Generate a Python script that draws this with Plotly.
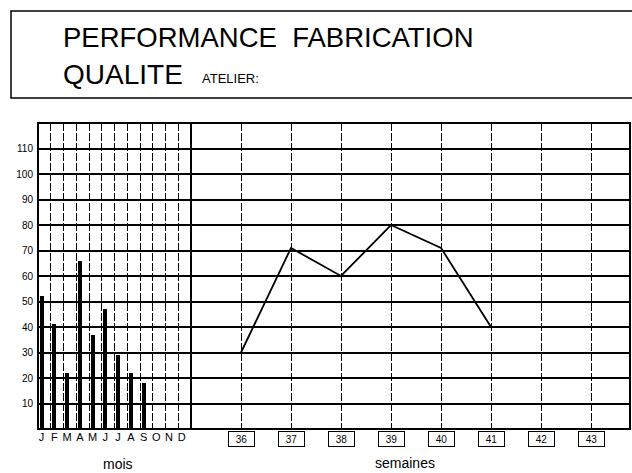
import plotly.graph_objects as go

# Monthly quality performance (%)
months = ["J", "F", "M", "A", "M", "J", "J", "A", "S", "O", "N", "D"]
month_values = [52, 41, 22, 66, 37, 47, 29, 22, 18, None, None, None]

# Weekly quality performance (%)
weeks = [36, 37, 38, 39, 40, 41, 42, 43]
week_values = [30, 71, 60, 80, 71, 40, None, None]

y_ticks = [10, 20, 30, 40, 50, 60, 70, 80, 90, 100, 110]

W, H = 632, 473
L, R, T, B = 38, 2, 123, 44
pw, ph = W - L - R, H - T - B


def px(x):
    return (x - L) / pw


def py(y):
    return (H - B - y) / ph


split = px(191)
bar_shift = 0.28

month_idx = list(range(len(months)))
bar_x = [i + bar_shift for i, v in enumerate(month_values) if v is not None]
bar_y = [v for v in month_values if v is not None]

fig = go.Figure()
fig.add_trace(go.Bar(x=bar_x, y=bar_y, width=0.32, marker=dict(color="black", line=dict(width=0)),
                     xaxis="x", yaxis="y", showlegend=False))
wx = [w for w, v in zip(weeks, week_values) if v is not None]
wy = [v for v in week_values if v is not None]
fig.add_trace(go.Scatter(x=wx, y=wy, mode="lines", line=dict(color="black", width=1.8),
                         xaxis="x2", yaxis="y", showlegend=False))

font = "Liberation Sans, Arial, sans-serif"

fig.update_layout(
    width=W, height=H,
    margin=dict(l=L, r=R, t=T, b=B),
    paper_bgcolor="white", plot_bgcolor="white",
    font=dict(family=font, color="black"),
    bargap=0,
    xaxis=dict(
        domain=[0, split], range=[0, 12],
        tickmode="array", tickvals=[i + bar_shift for i in month_idx], ticktext=months,
        showgrid=False, ticks="", tickfont=dict(size=11, color="black"),
        zeroline=False, showline=False,
        minor=dict(tickmode="array", tickvals=list(range(13)), showgrid=True,
                   gridcolor="black", gridwidth=1.4, griddash="8px,2px", ticks=""),
    ),
    xaxis2=dict(
        domain=[split, 1], range=[35, 35 + (W - R - 191) / 50], anchor="y",
        tickmode="array", tickvals=weeks, showticklabels=False,
        showgrid=True, gridcolor="black", gridwidth=1.4, griddash="8px,2px",
        zeroline=False, showline=False, ticks="",
    ),
    yaxis=dict(
        range=[0, 120], tickmode="array", tickvals=y_ticks,
        showgrid=True, gridcolor="black", gridwidth=1.8,
        tickfont=dict(size=10, color="black"), ticks="", ticklabelstandoff=4,
        zeroline=False, showline=False,
    ),
)

shapes = [
    # plot frame
    dict(type="rect", xref="paper", yref="paper", x0=0, x1=1, y0=0, y1=1,
         line=dict(color="black", width=2)),
    # month / week separator
    dict(type="line", xref="paper", yref="paper", x0=split, x1=split, y0=0, y1=1,
         line=dict(color="black", width=2)),
    # title box
    dict(type="rect", xref="paper", yref="paper", x0=px(11), x1=px(640), y0=py(98), y1=py(11),
         line=dict(color="black", width=1.5)),
]

annotations = [
    dict(text="PERFORMANCE  FABRICATION", xref="paper", yref="paper", x=px(61), y=py(37),
         xanchor="left", yanchor="middle", showarrow=False, font=dict(size=27.5, family=font)),
    dict(text="QUALITE", xref="paper", yref="paper", x=px(61), y=py(75),
         xanchor="left", yanchor="middle", showarrow=False, font=dict(size=28, family=font)),
    dict(text="ATELIER:", xref="paper", yref="paper", x=px(200), y=py(78),
         xanchor="left", yanchor="middle", showarrow=False, font=dict(size=13, family=font)),
    dict(text="mois", xref="paper", yref="paper", x=px(118), y=py(464),
         xanchor="center", yanchor="middle", showarrow=False, font=dict(size=14, family=font)),
    dict(text="semaines", xref="paper", yref="paper", x=px(405), y=py(463),
         xanchor="center", yanchor="middle", showarrow=False, font=dict(size=14, family=font)),
]
for w in weeks:
    annotations.append(dict(
        text=str(w), xref="x2", yref="paper", x=w, y=py(439),
        xanchor="center", yanchor="middle", showarrow=False,
        font=dict(size=10, family=font), width=23, height=12,
        bordercolor="black", borderwidth=1, borderpad=1,
    ))

fig.update_layout(shapes=shapes, annotations=annotations)
fig.write_html("out.html")
